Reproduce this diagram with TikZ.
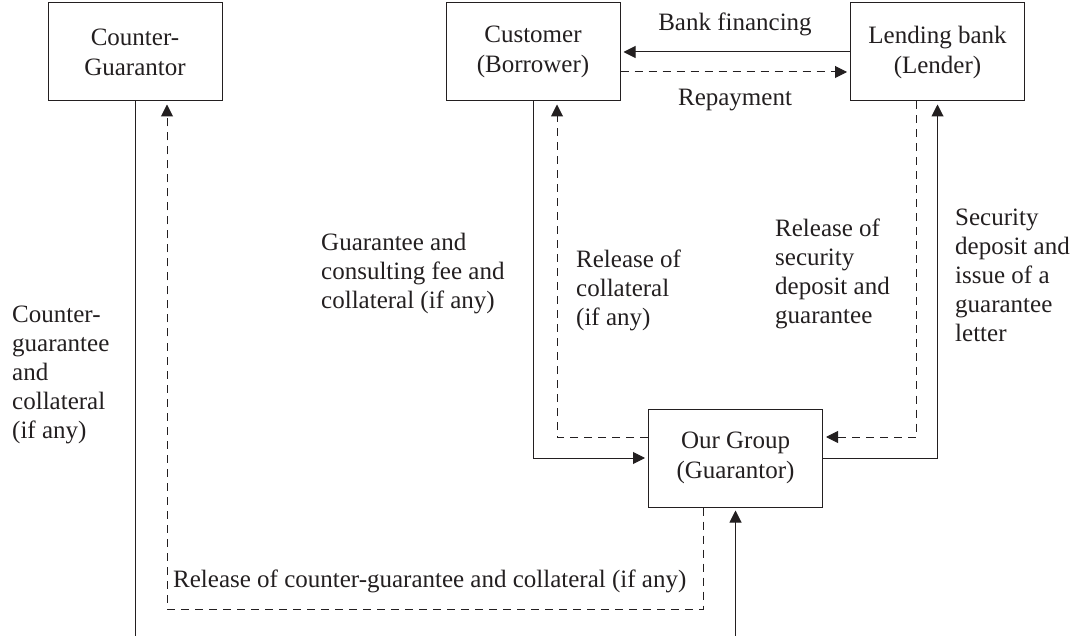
\documentclass[tikz,border=0pt]{standalone}
\usepackage{fontspec}
\setmainfont{Liberation Serif}
\usetikzlibrary{arrows.meta}
\definecolor{ink}{HTML}{231F20}
\begin{document}
\begin{tikzpicture}[x=1pt,y=-1pt,
  every node/.style={text=ink},
  party/.style={draw=ink, line width=1pt, minimum width=174pt, minimum height=98pt,
    align=center, inner sep=0pt, font=\fontsize{25}{30}\selectfont},
  note/.style={align=left, inner sep=0pt, anchor=west, font=\fontsize{25}{29}\selectfont},
  flow/.style={draw=ink, line width=1pt},
  tip/.style={-{Triangle[length=12pt,width=12pt]}, shorten >=3pt},
  back/.style={dash pattern=on 8pt off 6pt}]
\useasboundingbox (0,0) rectangle (1074,636);

% parties
\node[party] (cg) at (135,52)   {Counter-\\Guarantor};
\node[party] (cu) at (533,52)   {Customer\\(Borrower)};
\node[party] (lb) at (937.5,52) {Lending bank\\(Lender)};
\node[party] (og) at (735.5,458){Our Group\\(Guarantor)};

% turning points of the routed connectors
\coordinate (cgEnd) at (135,636);
\coordinate (ogIn)  at (735.5,636);
\coordinate (dl)    at (167,609);
\coordinate (dr)    at (703,609);
\coordinate (c1)    at (533,458);
\coordinate (c2)    at (557,437);
\coordinate (l1)    at (937.5,458);
\coordinate (l2)    at (916,437);
\coordinate (rp)    at (0,72);

% loan and repayment
\draw[flow,tip] (lb.west) -- (cu.east);
\draw[flow,tip,back] (cu.east |- rp) -- (lb.west |- rp);
\node[anchor=base, inner sep=0pt, font=\fontsize{25}{29}\selectfont] (bf) at (735,31) {Bank financing};
\node[anchor=base, inner sep=0pt, font=\fontsize{25}{29}\selectfont] (rpl) at (735,106) {Repayment};

% customer <-> guarantor
\draw[flow,tip] (cu.south) -- (c1) -- (og.west);
\draw[flow,tip,back] (og.west |- c2) -- (c2) -- (cu.south -| c2);

% lender <-> guarantor
\draw[flow,tip] (og.east) -- (l1) -- (lb.south);
\draw[flow,tip,back] (lb.south -| l2) -- (l2) -- (og.east |- l2);

% counter-guarantor <-> guarantor
\draw[flow] (cg.south) -- (cgEnd);
\draw[flow,tip] (ogIn) -- (og.south);
\draw[flow,tip,back] (og.south -| dr) -- (dr) -- (dl) -- (cg.south -| dl);

% labels
\node[note] (t1) at (12,375)  {Counter-\\guarantee\\and\\collateral\\(if any)};
\node[note] (t2) at (321,274) {Guarantee and\\consulting fee and\\collateral (if any)};
\node[note] (t3) at (576,290) {Release of\\collateral\\(if any)};
\node[note] (t4) at (775,274) {Release of\\security\\deposit and\\guarantee};
\node[note] (t5) at (955,275) {Security\\deposit and\\issue of a\\guarantee\\letter};
\node[note] (t6) at (173,581) {Release of counter-guarantee and collateral (if any)};
\end{tikzpicture}
\end{document}
